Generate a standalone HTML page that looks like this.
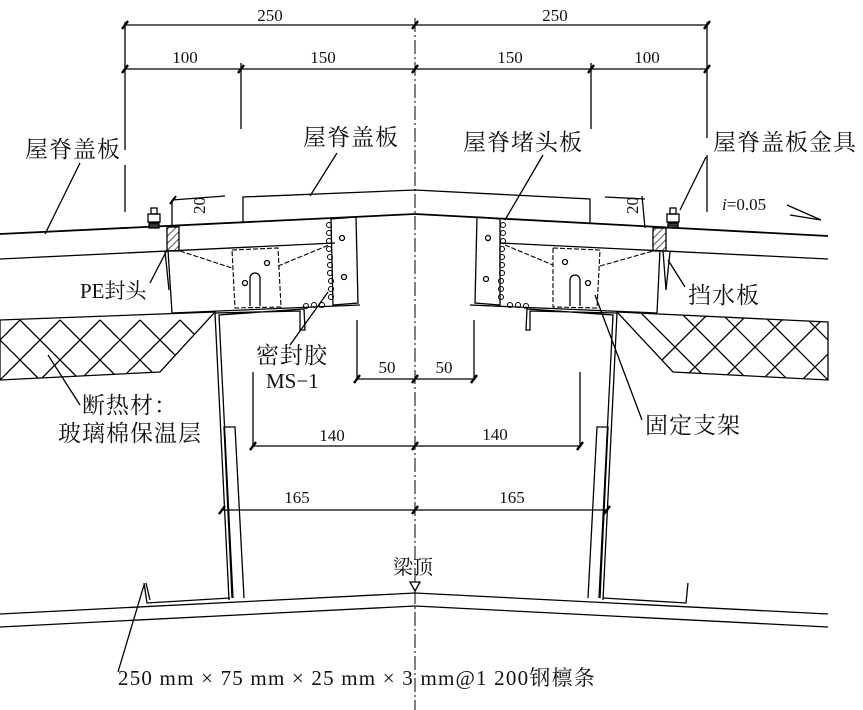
<!DOCTYPE html>
<html><head><meta charset="utf-8"><style>
html,body{margin:0;padding:0;background:#fff;}
svg{display:block;}
text{font-family:"Liberation Serif","Noto Serif CJK SC","Noto Sans CJK SC",serif;fill:#111;}
.c{font-family:"Liberation Serif","Noto Serif CJK SC",serif;font-size:23px;letter-spacing:1px;}
.n{font-size:17px;}
</style></head><body>
<svg width="863" height="710" viewBox="0 0 863 710" xmlns="http://www.w3.org/2000/svg">
<defs>
<pattern id="h" width="5" height="5" patternUnits="userSpaceOnUse" patternTransform="rotate(45)"><line x1="0" y1="0" x2="0" y2="5" stroke="#000" stroke-width="1.3"/></pattern>
<clipPath id="insL"><polygon points="0,320 215,312 160,372 0,380"/></clipPath>
<clipPath id="insR"><polygon points="617,312 828,322 828,380 673,372"/></clipPath>
</defs>
<g stroke="#000" stroke-width="1.3" fill="none">
<line x1="415" y1="18" x2="415" y2="710" stroke-dasharray="14,3,2,3" stroke-width="1"/>
<line x1="125" y1="25" x2="708" y2="25"/>
<line x1="125" y1="69" x2="708" y2="69"/>
<line x1="125" y1="22" x2="125" y2="150"/>
<line x1="125" y1="165" x2="125" y2="212"/>
<line x1="241" y1="63" x2="241" y2="129"/>
<line x1="591" y1="63" x2="591" y2="129"/>
<line x1="707" y1="22" x2="707" y2="138"/>
<line x1="707" y1="155" x2="707" y2="212"/>
<g stroke-width="2.4">
<line x1="122" y1="29" x2="128" y2="21"/><line x1="412" y1="29" x2="418" y2="21"/><line x1="704" y1="29" x2="710" y2="21"/>
<line x1="122" y1="73" x2="128" y2="65"/><line x1="238" y1="73" x2="244" y2="65"/><line x1="412" y1="73" x2="418" y2="65"/><line x1="588" y1="73" x2="594" y2="65"/><line x1="704" y1="73" x2="710" y2="65"/>
</g>
<line x1="0" y1="234" x2="415" y2="214" stroke-width="1.8"/>
<line x1="415" y1="214" x2="828" y2="236" stroke-width="1.8"/>
<polyline points="243,222 243,197 415,190 590,199 590,223"/>
<line x1="0" y1="259" x2="335" y2="243"/>
<line x1="500" y1="243" x2="828" y2="259"/>
<line x1="168" y1="250" x2="172" y2="313"/>
<line x1="660" y1="250" x2="657" y2="313"/>
<line x1="172" y1="313" x2="360" y2="305"/>
<line x1="470" y1="305" x2="657" y2="313"/>
<line x1="172" y1="200" x2="172" y2="226"/><line x1="172" y1="200" x2="225" y2="196"/>
<line x1="170" y1="204" x2="176" y2="196" stroke-width="2"/>
<line x1="642" y1="196" x2="645" y2="228"/><line x1="605" y1="197" x2="645" y2="199"/>
<rect x="167" y="227" width="12" height="24" fill="url(#h)"/>
<rect x="653" y="228" width="13" height="23" fill="url(#h)"/>
<rect x="148" y="214" width="12" height="8" fill="#fff"/><rect x="151" y="208" width="6" height="6"/><rect x="149" y="223" width="10" height="5" fill="#333"/>
<rect x="667" y="214" width="12" height="8" fill="#fff"/><rect x="670" y="208" width="6" height="6"/><rect x="668" y="223" width="10" height="5" fill="#333"/>
<polyline points="663,251 666,290 670,252"/>
<line x1="165" y1="251" x2="169" y2="290"/>
<polygon points="331,219 356,217 358,303 333,305"/>
<polygon points="477,217 500,219 500,305 475,303"/>
<circle cx="342" cy="238" r="2.5"/><circle cx="344" cy="277" r="2.5"/>
<circle cx="488" cy="238" r="2.5"/><circle cx="486" cy="279" r="2.5"/>
<g stroke-width="1">
<circle cx="329" cy="225" r="2.5"/><circle cx="329" cy="233" r="2.5"/><circle cx="329" cy="241" r="2.5"/><circle cx="329" cy="249" r="2.5"/><circle cx="330" cy="257" r="2.5"/><circle cx="330" cy="265" r="2.5"/><circle cx="330" cy="273" r="2.5"/><circle cx="331" cy="281" r="2.5"/><circle cx="331" cy="289" r="2.5"/><circle cx="331" cy="297" r="2.5"/><circle cx="322" cy="305" r="2.5"/><circle cx="314" cy="305" r="2.5"/><circle cx="306" cy="306" r="2.5"/>
<circle cx="503" cy="225" r="2.5"/><circle cx="503" cy="233" r="2.5"/><circle cx="503" cy="241" r="2.5"/><circle cx="502" cy="249" r="2.5"/><circle cx="502" cy="257" r="2.5"/><circle cx="502" cy="265" r="2.5"/><circle cx="502" cy="273" r="2.5"/><circle cx="501" cy="281" r="2.5"/><circle cx="501" cy="289" r="2.5"/><circle cx="501" cy="297" r="2.5"/><circle cx="510" cy="305" r="2.5"/><circle cx="518" cy="305" r="2.5"/><circle cx="526" cy="306" r="2.5"/>
</g>
<g stroke-dasharray="5,2" stroke-width="1.1">
<polygon points="232,250 278,248 281,307 235,308"/>
<polygon points="553,248 600,250 597,308 553,307"/>
<line x1="180" y1="251" x2="232" y2="268"/><line x1="278" y1="266" x2="329" y2="245"/>
<line x1="505" y1="245" x2="553" y2="265"/><line x1="600" y1="266" x2="653" y2="251"/>
</g>
<path d="M250,306 L250,278 A5,5 0 0 1 260,278 L260,306"/>
<path d="M570,306 L570,280 A5,5 0 0 1 580,280 L580,306"/>
<circle cx="245" cy="283" r="2.5"/><circle cx="267" cy="263" r="2.5"/>
<circle cx="565" cy="262" r="2.5"/><circle cx="588" cy="283" r="2.5"/>
<polygon points="0,320 215,312 160,372 0,380"/>
<polygon points="617,312 828,322 828,380 673,372"/>
<g clip-path="url(#insL)"><path d="M-60,320 l60,60 M-20,320 l60,60 M20,320 l60,60 M60,320 l60,60 M100,320 l60,60 M140,320 l60,60 M180,320 l60,60 M220,320 l60,60 M-40,380 l60,-60 M0,380 l60,-60 M40,380 l60,-60 M80,380 l60,-60 M120,380 l60,-60 M160,380 l60,-60 M200,380 l60,-60"/></g>
<g clip-path="url(#insR)"><path d="M600,312 l70,70 M640,312 l70,70 M680,312 l70,70 M720,312 l70,70 M760,312 l70,70 M800,312 l70,70 M640,382 l70,-70 M680,382 l70,-70 M720,382 l70,-70 M760,382 l70,-70 M800,382 l70,-70 M840,382 l70,-70"/></g>
<!-- beam webs -->
<polyline points="229,600 215,313 300,311 300,330 305,330 304,309 219,315 233,598"/>
<polyline points="603,600 617,313 530,311 530,330 526,330 527,309 613,315 599,598"/>
<polyline points="232,598 224,427 235,427 244,598"/>
<polyline points="588,598 597,427 608,427 600,598"/>
<polyline points="144,583 147,603 230,598"/><polyline points="146,583 150,600"/>
<polyline points="688,583 686,603 603,598"/>
<polyline points="0,614 415,593 828,614"/>
<polyline points="0,627 415,606 828,627"/>
<polygon points="410,582 420,582 415,591" fill="#fff"/>
<line x1="357" y1="320" x2="357" y2="379"/><line x1="474" y1="320" x2="474" y2="379"/>
<line x1="357" y1="379" x2="474" y2="379"/>
<line x1="253" y1="372" x2="253" y2="446"/><line x1="580" y1="372" x2="580" y2="446"/>
<line x1="253" y1="446" x2="580" y2="446"/>
<line x1="222" y1="510" x2="607" y2="510"/>
<g stroke-width="2.4">
<line x1="354" y1="383" x2="360" y2="375"/><line x1="412" y1="383" x2="418" y2="375"/><line x1="471" y1="383" x2="477" y2="375"/>
<line x1="250" y1="450" x2="256" y2="442"/><line x1="412" y1="450" x2="418" y2="442"/><line x1="577" y1="450" x2="583" y2="442"/>
<line x1="219" y1="514" x2="225" y2="506"/><line x1="412" y1="514" x2="418" y2="506"/><line x1="604" y1="514" x2="610" y2="506"/>
</g>
<line x1="787" y1="205" x2="821" y2="220"/><line x1="790" y1="215" x2="821" y2="220"/>
<line x1="80" y1="163" x2="45" y2="234"/>
<line x1="337" y1="153" x2="310" y2="196"/>
<line x1="543" y1="155" x2="505" y2="220"/>
<line x1="706" y1="157" x2="680" y2="210"/>
<line x1="150" y1="283" x2="167" y2="250"/>
<line x1="685" y1="287" x2="668" y2="260"/>
<line x1="290" y1="345" x2="328" y2="292"/>
<line x1="80" y1="405" x2="48" y2="355"/>
<line x1="642" y1="420" x2="595" y2="295"/>
<line x1="118" y1="672" x2="144" y2="585"/>
</g>
<text x="270" y="21" class="n" text-anchor="middle">250</text>
<text x="555" y="21" class="n" text-anchor="middle">250</text>
<text x="185" y="63" class="n" text-anchor="middle">100</text>
<text x="323" y="63" class="n" text-anchor="middle">150</text>
<text x="510" y="63" class="n" text-anchor="middle">150</text>
<text x="647" y="63" class="n" text-anchor="middle">100</text>
<text x="25" y="157" class="c">屋脊盖板</text>
<text x="303" y="145" class="c">屋脊盖板</text>
<text x="463" y="150" class="c">屋脊堵头板</text>
<text x="713" y="150" class="c">屋脊盖板金具</text>
<text x="722" y="210" class="n"><tspan font-style="italic">i</tspan>=0.05</text>
<text x="80" y="298" class="c" style="font-size:21px;letter-spacing:0">PE封头</text>
<text x="688" y="303" class="c">挡水板</text>
<text x="256" y="363" class="c">密封胶</text>
<text x="266" y="388" class="c" style="font-size:21px;letter-spacing:0">MS−1</text>
<text x="82" y="413" class="c">断热材：</text>
<text x="58" y="441" class="c">玻璃棉保温层</text>
<text x="645" y="433" class="c">固定支架</text>
<text x="387" y="373" class="n" text-anchor="middle">50</text>
<text x="444" y="373" class="n" text-anchor="middle">50</text>
<text x="332" y="441" class="n" text-anchor="middle">140</text>
<text x="495" y="440" class="n" text-anchor="middle">140</text>
<text x="297" y="503" class="n" text-anchor="middle">165</text>
<text x="512" y="503" class="n" text-anchor="middle">165</text>
<text x="393" y="574" class="c" style="font-size:20px;letter-spacing:0">梁顶</text>
<text x="118" y="685" class="c" style="font-size:21px;letter-spacing:0.3px" textLength="477">250 mm × 75 mm × 25 mm × 3 mm@1 200钢檩条</text>
<text x="0" y="0" transform="translate(205,214) rotate(-90)" class="n">20</text>
<text x="0" y="0" transform="translate(638,214) rotate(-90)" class="n">20</text>
</svg>
</body></html>
